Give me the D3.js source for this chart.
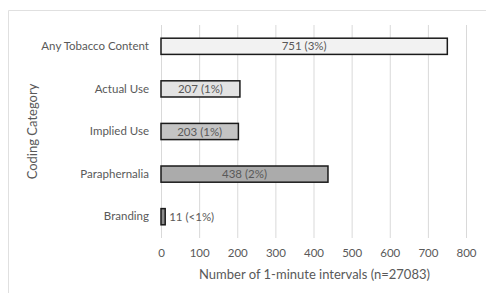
<!DOCTYPE html>
<html>
<head>
<meta charset="utf-8">
<script src="https://d3js.org/d3.v7.min.js"></script>
<style>
  body { margin: 0; background: #fff; }
  svg text { font-family: Lato, "Open Sans", sans-serif; fill: #595959; }
</style>
</head>
<body>
<svg id="chart" width="486" height="293"></svg>
<script>
// data
const categories = ['Any Tobacco Content', 'Actual Use', 'Implied Use', 'Paraphernalia', 'Branding'];
const counts = [751, 207, 203, 438, 11];
const labels = ['751 (3%)', '207 (1%)', '203 (1%)', '438 (2%)', '11 (<1%)'];
const fills = ['#f2f2f2', '#e3e3e3', '#c4c4c4', '#ababab', '#8c8c8c'];
const xTicks = [0, 100, 200, 300, 400, 500, 600, 700, 800];

const margin = { top: 25, right: 20, bottom: 55, left: 161 };
const W = 486, H = 293;
const w = W - margin.left - margin.right;   // 305 -> 0..800
const h = H - margin.top - margin.bottom;

const svg = d3.select('#chart');

// outer frame (clipped at right/bottom like the source)
svg.append('path')
    .attr('d', 'M8.5,' + H + 'V10.5H' + W)
    .attr('fill', 'none')
    .attr('stroke', '#e0e0e0');

const g = svg.append('g').attr('transform', 'translate(' + margin.left + ',' + margin.top + ')');

const x = d3.scaleLinear().domain([0, 800]).range([0, w]);
const y = d3.scaleBand().domain(categories).range([0, h]).paddingInner(0.62).paddingOuter(0.31);

// gridlines
g.append('g').selectAll('line')
    .data(xTicks)
    .enter().append('line')
    .attr('x1', d => x(d) + 0.5).attr('x2', d => x(d) + 0.5)
    .attr('y1', 0).attr('y2', h)
    .attr('stroke', '#d9d9d9');

// bars
g.append('g').selectAll('rect')
    .data(categories)
    .enter().append('rect')
    .attr('x', x(0))
    .attr('y', d => y(d))
    .attr('width', (d, i) => x(counts[i]) - x(0))
    .attr('height', y.bandwidth())
    .attr('fill', (d, i) => fills[i])
    .attr('stroke', '#1a1a1a')
    .attr('stroke-width', 1.5);

// value labels
g.append('g').selectAll('text')
    .data(categories)
    .enter().append('text')
    .attr('x', (d, i) => counts[i] < 50 ? x(counts[i]) + 4 : x(counts[i] / 2))
    .attr('y', d => y(d) + y.bandwidth() / 2)
    .attr('dy', '0.35em')
    .attr('text-anchor', (d, i) => counts[i] < 50 ? 'start' : 'middle')
    .attr('font-size', 11.5)
    .text((d, i) => labels[i]);

// x axis
const xAxis = d3.axisBottom(x).tickValues(xTicks).tickSize(0).tickPadding(11);
g.append('g')
    .attr('transform', 'translate(0,' + h + ')')
    .call(xAxis)
    .call(a => a.select('.domain').remove())
    .selectAll('text')
    .attr('font-size', 11.5)
    .style('font-family', 'Lato, "Open Sans", sans-serif')
    .attr('fill', '#595959');

// y axis
const yAxis = d3.axisLeft(y).tickSize(0).tickPadding(12);
g.append('g')
    .call(yAxis)
    .call(a => a.select('.domain').remove())
    .selectAll('text')
    .attr('font-size', 11.5)
    .style('font-family', 'Lato, "Open Sans", sans-serif')
    .attr('fill', '#595959');

// axis titles
svg.append('text')
    .attr('x', margin.left + w / 2 + 1)
    .attr('y', 279)
    .attr('text-anchor', 'middle')
    .attr('font-size', 13)
    .text('Number of 1-minute intervals (n=27083)');

svg.append('text')
    .attr('transform', 'translate(37,' + (margin.top + h / 2) + ') rotate(-90)')
    .attr('text-anchor', 'middle')
    .attr('font-size', 13)
    .text('Coding Category');
</script>
</body>
</html>
